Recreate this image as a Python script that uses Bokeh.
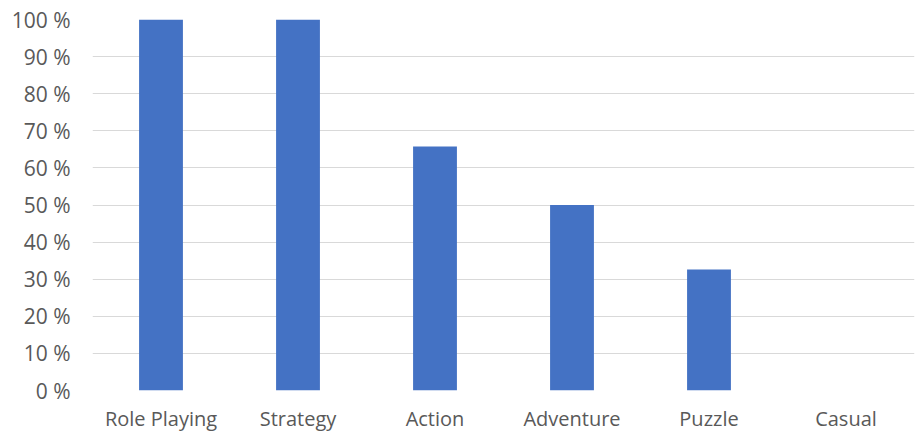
from bokeh.plotting import figure
from bokeh.models import FactorRange, Range1d, FixedTicker, PrintfTickFormatter, ColumnDataSource
from bokeh.embed import file_html
from bokeh.resources import INLINE

categories = ["Role Playing", "Strategy", "Action", "Adventure", "Puzzle", "Casual"]
values = [100, 100, 65.8, 50, 32.6, 0]
y_ticks = [0, 10, 20, 30, 40, 50, 60, 70, 80, 90, 100]

src = ColumnDataSource(dict(cat=categories, val=values))

p = figure(width=915, height=434, x_range=FactorRange(*categories, range_padding=0),
           y_range=Range1d(0, 100), output_backend="svg", toolbar_location=None,
           min_border_left=92, min_border_right=1, min_border_top=19, min_border_bottom=44)
p.outline_line_color = None
p.background_fill_color = "white"
p.border_fill_color = "white"

p.vbar(x="cat", top="val", width=0.32, source=src, fill_color="#4472C4", line_color=None)

p.xgrid.grid_line_color = None
p.ygrid.grid_line_color = "#d9d9d9"
p.ygrid.grid_line_width = 1

p.yaxis.ticker = FixedTicker(ticks=y_ticks)
p.yaxis.formatter = PrintfTickFormatter(format="%d %%")

for ax in (p.xaxis[0], p.yaxis[0]):
    ax.axis_line_color = None
    ax.major_tick_line_color = None
    ax.minor_tick_line_color = None
    ax.major_tick_out = 0
    ax.major_tick_in = 0
    ax.minor_tick_out = 0
    ax.minor_tick_in = 0
    ax.major_label_text_font = "Open Sans"
    ax.major_label_text_font_size = "20px"
    ax.major_label_text_color = "#595959"

p.yaxis.major_label_text_font_size = "21px"
p.yaxis.major_label_standoff = 22
p.xaxis.major_label_standoff = 14

open("out.html", "w").write(file_html(p, INLINE))
